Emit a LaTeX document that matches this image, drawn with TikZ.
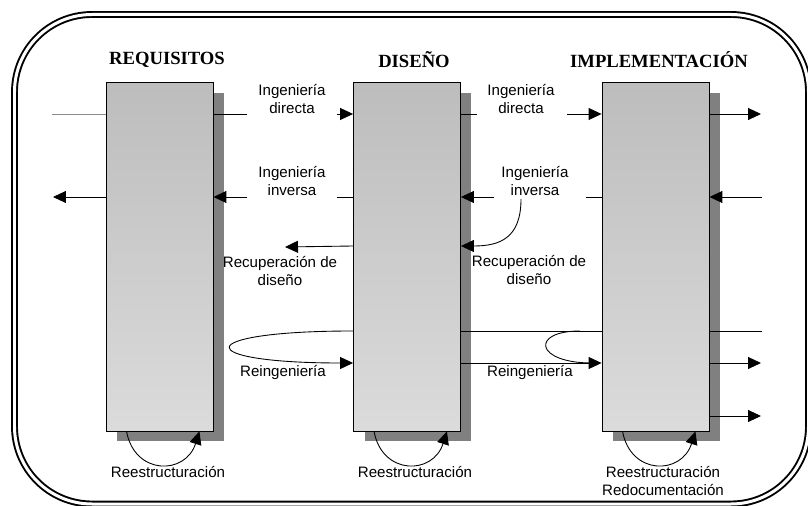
\documentclass[tikz,border=0pt]{standalone}
\usepackage{fontspec}
\setmainfont{Liberation Sans}
\newfontfamily\titlefont{Liberation Serif}
\usetikzlibrary{arrows.meta,shadows}

\begin{document}
\begin{tikzpicture}[x=0.02cm, y=-0.02cm, line width=0.5pt,
  phase/.style={draw, minimum width=2.14cm, minimum height=6.98cm,
    top color=black!26, bottom color=black!14,
    drop shadow={shadow xshift=0.22cm, shadow yshift=-0.21cm, fill=black!50, opacity=1}},
  title/.style={font=\titlefont\bfseries\fontsize{10.6}{12}\selectfont},
  lbl/.style={align=center, inner sep=0pt, font=\fontsize{8.6}{9.8}\selectfont},
  arr/.style={-{Triangle[length=0.26cm, width=0.24cm]}}]
\useasboundingbox (0,0) rectangle (808,506);

% marco
\draw[double, line width=1.1pt, double distance=0.06cm, rounded corners=1.55cm] (14.5,14.5) rectangle (808.5,504);

\node[phase] (req) at (159.5,256.5) {};
\node[phase] (dis) at (407,256.5) {};
\node[phase] (imp) at (655.5,256.5) {};

\node[title] (treq) at (167,60) {REQUISITOS};
\node[title] (tdis) at (414,60) {DISEÑO};
\node[title] (timp) at (659,60) {IMPLEMENTACIÓN};

\node[lbl] (dir1) at (292,99) {Ingeniería\\directa};
\node[lbl] (dir2) at (521,99) {Ingeniería\\directa};
\node[lbl] (inv1) at (292,181) {Ingeniería\\inversa};
\node[lbl] (inv2) at (535,181) {Ingeniería\\inversa};
\node[lbl] (rec1) at (280,271) {Recuperación de\\diseño};
\node[lbl] (rec2) at (529,270) {Recuperación de\\diseño};
\node[lbl] (rei1) at (283,373) {Reingeniería};
\node[lbl] (rei2) at (530,373) {Reingeniería};
\node[lbl] (res1) at (168,472) {Reestructuración};
\node[lbl] (res2) at (415,472) {Reestructuración};
\node[lbl] (res3) at (663,481) {Reestructuración\\Redocumentación};

% niveles
\coordinate (r1) at (0,114);
\coordinate (r2) at (0,197);
\coordinate (r3) at (0,246);
\coordinate (r4) at (0,331);
\coordinate (r5) at (0,363);
\coordinate (r6) at (0,416);

% extremos libres
\coordinate (a1) at (52,114);
\coordinate (a2) at (247,114);
\coordinate (a3) at (337,114);
\coordinate (a4) at (477,114);
\coordinate (a5) at (567,114);
\coordinate (a6) at (761,114);
\coordinate (b1) at (53,197);
\coordinate (b2) at (247,197);
\coordinate (b3) at (337,197);
\coordinate (b4) at (494,197);
\coordinate (b5) at (586,197);
\coordinate (b6) at (762,197);
\coordinate (c1) at (285,247);
\coordinate (c2) at (521,199);
\coordinate (d1) at (580,331);
\coordinate (d2) at (592,363);
\coordinate (d3) at (762,331);
\coordinate (d4) at (761,363);
\coordinate (d5) at (761,416);

% ingenieria directa
\draw[black!45] (a1) -- (req.west |- r1);
\draw (req.east |- r1) -- (a2);
\draw[arr] (a3) -- (dis.west |- r1);
\draw (dis.east |- r1) -- (a4);
\draw[arr] (a5) -- (imp.west |- r1);
\draw[arr] (imp.east |- r1) -- (a6);

% ingenieria inversa
\draw[arr] (req.west |- r2) -- (b1);
\draw[arr] (b2) -- (req.east |- r2);
\draw (b3) -- (dis.west |- r2);
\draw[arr] (b4) -- (dis.east |- r2);
\draw (b5) -- (imp.west |- r2);
\draw[arr] (b6) -- (imp.east |- r2);

% recuperacion de diseno
\draw[arr] (dis.west |- r3) -- (c1);
\draw[arr] (c2) .. controls (521,238) and (500,246) .. (dis.east |- r3);

% reingenieria
\draw[arr] (dis.west |- r4) .. controls (190,331) and (190,363) .. (dis.west |- r5);
\draw (dis.east |- r4) -- (imp.west |- r4);
\draw[arr] (dis.east |- r5) -- (imp.west |- r5);
\draw (d1) .. controls (530,331) and (535,363) .. (d2);
\draw (imp.east |- r4) -- (d3);
\draw[arr] (imp.east |- r5) -- (d4);
\draw[arr] (imp.east |- r6) -- (d5);

% reestructuracion
\foreach \b in {req,dis,imp}
  \draw[arr] ([xshift=0.42cm]\b.south west) .. controls +(8,44) and +(-14,44) .. ([xshift=-0.28cm]\b.south east);

\end{tikzpicture}
\end{document}
